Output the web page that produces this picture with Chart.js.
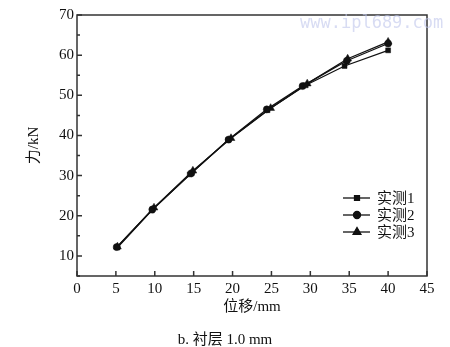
<!DOCTYPE html>
<html>
<head>
<meta charset="utf-8">
<script src="https://cdn.jsdelivr.net/npm/chart.js@4"></script>
<style>
    body { margin: 0; background: #fff; }
    #wrap { position: relative; width: 450px; height: 347px; }
    #caption { position: absolute; left: 0; width: 450px; top: 327px; text-align: center;
        font: 15px 'Liberation Serif', 'Noto Sans CJK SC', serif; color: #111; }
    #mark { position: absolute; left: 300px; top: 12px;
        font: 17px 'DejaVu Sans Mono', monospace; color: rgba(190, 196, 235, 0.6); }
</style>
</head>
<body>
<div id="wrap">
    <canvas id="chartLine" width="450" height="347"></canvas>
    <div id="mark">www.ipl689.com</div>
    <div id="caption">b. 衬层 1.0 mm</div>
</div>
<script>
// 位移 (mm) và lực (kN)
var names = ["实测1", "实测2", "实测3"];
var disp1 = [5.2, 9.6, 14.5, 19.4, 24.5, 29.4, 34.4, 40.0];
var force1 = [12.1, 21.3, 30.3, 38.8, 46.3, 52.5, 57.3, 61.2];
var disp2 = [5.1, 9.7, 14.7, 19.5, 24.4, 29.0, 34.7, 40.0];
var force2 = [12.2, 21.6, 30.6, 39.0, 46.5, 52.3, 58.6, 62.9];
var disp3 = [5.2, 9.9, 14.9, 19.8, 24.9, 29.6, 34.8, 40.0];
var force3 = [12.3, 22.0, 31.2, 39.3, 46.8, 52.9, 59.1, 63.3];
var xTicks = [0, 5, 10, 15, 20, 25, 30, 35, 40, 45];
var yTicks = [10, 20, 30, 40, 50, 60, 70];

var fontFamily = "'Liberation Serif', 'Noto Sans CJK SC', serif";
var markers = ['rect', 'circle', 'triangle'];
var radii = [3.5, 3.5, 4.5];

function pts(xs, ys) {
    var out = [];
    for (var i = 0; i < xs.length; i++) out.push({ x: xs[i], y: ys[i] });
    return out;
}

var series = [pts(disp1, force1), pts(disp2, force2), pts(disp3, force3)];
var datasets = series.map(function (d, i) {
    return {
        label: names[i],
        data: d,
        showLine: true,
        borderColor: '#111',
        backgroundColor: '#111',
        borderWidth: 1.3,
        pointStyle: markers[i],
        pointRadius: radii[i],
        pointBackgroundColor: '#111',
        pointBorderColor: '#111',
        pointBorderWidth: 0.5
    };
});

// khung + vạch chia hướng vào trong + chú thích
var framePlugin = {
    id: 'frame',
    afterDraw: function (chart) {
        var ctx = chart.ctx, a = chart.chartArea;
        var xs = chart.scales.x, ys = chart.scales.y;
        ctx.save();
        ctx.strokeStyle = '#333';
        ctx.lineWidth = 1.5;
        ctx.strokeRect(a.left, a.top, a.right - a.left, a.bottom - a.top);
        ctx.beginPath();
        xTicks.forEach(function (v) {
            var px = xs.getPixelForValue(v);
            ctx.moveTo(px, a.bottom);
            ctx.lineTo(px, a.bottom - 5);
        });
        for (var v = 5; v <= 70; v += 5) {
            var py = ys.getPixelForValue(v);
            ctx.moveTo(a.left, py);
            ctx.lineTo(a.left + (v % 10 === 0 ? 5 : 3), py);
        }
        ctx.stroke();

        // legend
        ctx.font = '15px ' + fontFamily;
        ctx.textBaseline = 'middle';
        ctx.fillStyle = '#111';
        var lx = 343, ly = 198;
        chart.data.datasets.forEach(function (ds, i) {
            var y = ly + i * 17;
            ctx.strokeStyle = '#111';
            ctx.lineWidth = 1.3;
            ctx.beginPath();
            ctx.moveTo(lx, y);
            ctx.lineTo(lx + 27, y);
            ctx.stroke();
            Chart.helpers.drawPoint(ctx, { pointStyle: ds.pointStyle, radius: ds.pointRadius, rotation: 0, borderWidth: 0.5 }, lx + 14, y);
            ctx.fill();
            ctx.fillText(ds.label, lx + 34, y + 1);
        });
        ctx.restore();
    }
};

var ctx = document.getElementById('chartLine').getContext('2d');
var myChart = new Chart(ctx, {
    type: 'scatter',
    data: { datasets: datasets },
    options: {
        responsive: false,
        animation: false,
        layout: { padding: { left: 25, right: 23, top: 15, bottom: 29 } },
        plugins: { legend: { display: false }, tooltip: { enabled: false } },
        scales: {
            x: {
                type: 'linear',
                min: 0, max: 45,
                afterBuildTicks: function (s) { s.ticks = xTicks.map(function (v) { return { value: v }; }); },
                afterFit: function (s) { s.height = 42; },
                grid: { display: false, drawTicks: false },
                border: { display: false },
                ticks: { color: '#111', padding: 4, font: { family: fontFamily, size: 15 } },
                title: { display: true, text: '位移/mm', color: '#111', padding: { top: 0, bottom: 2 }, font: { family: fontFamily, size: 15 } }
            },
            y: {
                type: 'linear',
                min: 5, max: 70,
                afterBuildTicks: function (s) { s.ticks = yTicks.map(function (v) { return { value: v }; }); },
                afterFit: function (s) { s.width = 52; },
                grid: { display: false, drawTicks: false },
                border: { display: false },
                ticks: { color: '#111', padding: 3, font: { family: fontFamily, size: 15 } },
                title: { display: true, text: '力/kN', color: '#111', padding: { top: 0, bottom: 0 }, font: { family: fontFamily, size: 15 } }
            }
        }
    },
    plugins: [framePlugin]
});
</script>
</body>
</html>
